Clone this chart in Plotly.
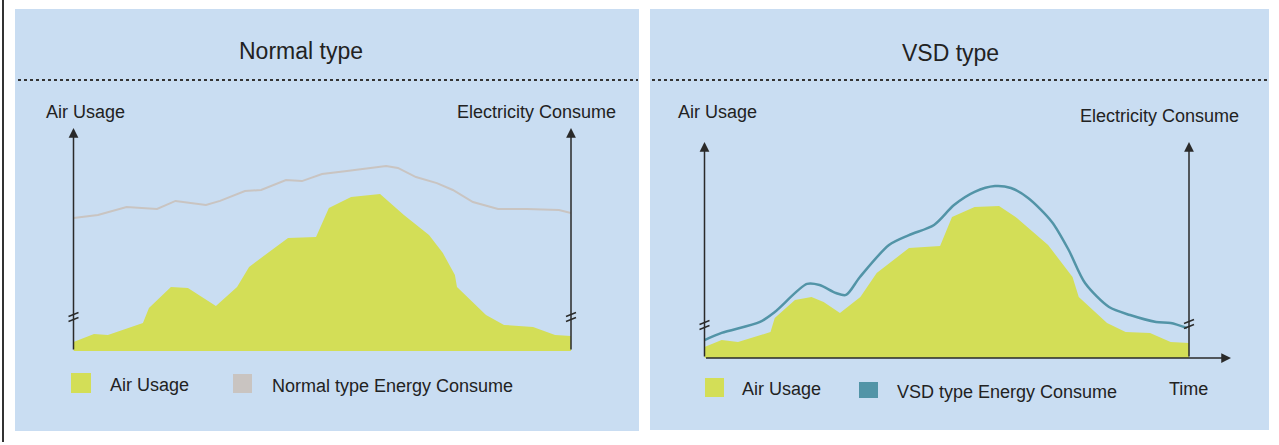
import plotly.graph_objects as go

# ---------------- data (time in hours, value in % of axis height) ----------------
normal_air_t = [0, 0.99, 1.66, 2.34, 3.35, 3.64, 4.70, 5.52, 6.87, 7.89, 8.47, 9.24, 10.35, 11.70,
                12.32, 13.39, 14.79, 15.94, 17.15, 17.82, 18.40, 18.50, 19.90, 20.77, 22.17, 23.23, 24]
normal_air_v = [4.0, 7.6, 7.2, 9.4, 12.6, 19.3, 28.7, 28.3, 20.2, 28.7, 37.7, 43.0, 50.7, 51.1,
                64.1, 69.1, 70.4, 61.0, 52.0, 43.9, 34.1, 28.7, 16.1, 11.7, 10.8, 7.2, 6.7]

normal_energy_t = [0, 1.18, 2.56, 4.03, 4.92, 6.39, 7.07, 8.27, 9.05, 10.25, 11.02, 11.99, 13.19,
                   14.35, 15.08, 15.65, 16.52, 17.53, 18.30, 19.27, 20.48, 21.87, 23.42, 24]
normal_energy_v = [59.6, 61.0, 64.6, 63.7, 67.3, 65.5, 67.3, 71.7, 72.2, 76.7, 76.2, 79.4, 80.7,
                   82.1, 83.0, 82.1, 78.0, 75.3, 72.2, 66.8, 63.7, 63.7, 63.2, 61.9]

vsd_air_t = [0, 0.85, 1.66, 3.27, 3.48, 4.48, 5.30, 5.90, 6.71, 7.72, 8.53, 10.13, 11.67, 12.26,
             13.38, 14.59, 15.41, 17.02, 18.23, 18.54, 19.94, 20.86, 22.07, 23.09, 24]
vsd_air_v = [5.1, 8.3, 7.4, 12.0, 18.5, 26.9, 28.2, 25.9, 20.8, 28.2, 39.4, 50.9, 51.9, 65.3,
             69.9, 70.4, 65.3, 52.3, 37.5, 28.2, 16.2, 12.0, 11.6, 7.4, 6.9]

vsd_energy_t = [0, 0.85, 2.75, 3.48, 5.08, 5.70, 6.51, 7.01, 7.70, 9.14, 10.13, 11.37, 12.36, 13.38,
                14.39, 15.18, 16.03, 17.21, 18.04, 18.85, 20.04, 21.08, 22.37, 23.09, 23.90]
vsd_energy_v = [8.3, 11.6, 16.7, 21.3, 34.3, 33.8, 30.1, 29.2, 37.5, 52.3, 56.9, 61.6, 70.8, 76.9,
                79.6, 78.7, 74.1, 63.0, 50.0, 34.7, 23.6, 19.9, 16.7, 16.2, 13.9]

panel_titles = ["Normal type", "VSD type"]
axis_left_label = "Air Usage"
axis_right_label = "Electricity Consume"
legend_labels = ["Air Usage", "Normal type Energy Consume", "VSD type Energy Consume"]
time_label = "Time"

# ---------------- styling ----------------
W, H = 1279, 445
BG = "#c9ddf2"
YELLOW = "#d3de57"
GRAY = "#c9c4c1"
TEAL = "#5294a7"
DARK = "#2a2a2a"
FONT = "Liberation Sans, Arial, sans-serif"


def px(x):
    return x / W


def py(y):
    return 1 - y / H


fig = go.Figure()

# left panel traces
fig.add_trace(go.Scatter(x=normal_air_t, y=normal_air_v, mode="lines", fill="tozeroy",
                         fillcolor=YELLOW, line=dict(width=0, color=YELLOW),
                         xaxis="x", yaxis="y", showlegend=False, hoverinfo="skip"))
fig.add_trace(go.Scatter(x=normal_energy_t, y=normal_energy_v, mode="lines",
                         line=dict(width=2, color=GRAY),
                         xaxis="x", yaxis="y", showlegend=False, hoverinfo="skip"))
# right panel traces
fig.add_trace(go.Scatter(x=vsd_air_t, y=vsd_air_v, mode="lines", fill="tozeroy",
                         fillcolor=YELLOW, line=dict(width=0, color=YELLOW),
                         xaxis="x2", yaxis="y2", showlegend=False, hoverinfo="skip"))
fig.add_trace(go.Scatter(x=vsd_energy_t, y=vsd_energy_v, mode="lines",
                         line=dict(width=2.5, color=TEAL, shape="spline", smoothing=0.8),
                         xaxis="x2", yaxis="y2", showlegend=False, hoverinfo="skip"))

# panel geometry (pixels)
L = dict(x0=73.5, x1=571, ybot=351, ytop=128)
R = dict(x0=704.5, x1=1189, ybot=358, ytop=142)

axis_common = dict(visible=False, fixedrange=True)
fig.update_layout(
    xaxis=dict(domain=[px(L["x0"]), px(L["x1"])], range=[0, 24], anchor="y", **axis_common),
    yaxis=dict(domain=[py(L["ybot"]), py(L["ytop"])], range=[0, 100], anchor="x", **axis_common),
    xaxis2=dict(domain=[px(R["x0"]), px(R["x1"])], range=[0, 24], anchor="y2", **axis_common),
    yaxis2=dict(domain=[py(R["ybot"]), py(R["ytop"])], range=[0, 100], anchor="x2", **axis_common),
)

shapes = []
# outer left border line
shapes.append(dict(type="line", xref="paper", yref="paper", x0=px(3), x1=px(3), y0=py(0), y1=py(442),
                   line=dict(color="#333333", width=2)))
# panel backgrounds
for (a, b, c, d) in [(15, 639, 9, 431), (650, 1269, 9, 430)]:
    shapes.append(dict(type="rect", xref="paper", yref="paper", x0=px(a), x1=px(b), y0=py(c), y1=py(d),
                       fillcolor=BG, line=dict(width=0), layer="below"))
# dotted separators
for (a, b) in [(18, 638), (652, 1268)]:
    shapes.append(dict(type="line", xref="paper", yref="paper", x0=px(a), x1=px(b), y0=py(80), y1=py(80),
                       line=dict(color="#333333", width=2, dash="dot")))
# axis break marks
for (bx, by) in [(L["x0"], 317), (L["x1"], 317), (R["x0"], 325), (R["x1"], 324)]:
    for off in (-2.5, 2.5):
        shapes.append(dict(type="line", xref="paper", yref="paper",
                           x0=px(bx - 5), x1=px(bx + 5), y0=py(by + off + 2), y1=py(by + off - 2),
                           line=dict(color=DARK, width=1.5)))

# legend squares
for (a, b, c, d, col) in [(71, 91, 373, 393, YELLOW), (233, 252, 374, 393, GRAY),
                          (705, 724, 378, 397, YELLOW), (859, 878, 382, 398, TEAL)]:
    shapes.append(dict(type="rect", xref="paper", yref="paper", x0=px(a), x1=px(b), y0=py(c), y1=py(d),
                       fillcolor=col, line=dict(width=0)))
fig.update_layout(shapes=shapes)

ann = []
# axis arrows (vertical)
for (ax_x, ybot, ytop) in [(L["x0"], L["ybot"], L["ytop"]), (L["x1"], L["ybot"], L["ytop"]),
                           (R["x0"], R["ybot"], R["ytop"]), (R["x1"], R["ybot"], R["ytop"])]:
    ann.append(dict(xref="paper", yref="paper", x=px(ax_x), y=py(ytop), ax=0, ay=ybot - ytop,
                    text="", showarrow=True, arrowhead=2, arrowsize=1.3, arrowwidth=1.5,
                    arrowcolor=DARK))
# horizontal time axis (right panel)
ann.append(dict(xref="paper", yref="paper", x=px(1231), y=py(R["ybot"]), ax=-(1231 - R["x0"]), ay=0,
                text="", showarrow=True, arrowhead=2, arrowsize=1.3, arrowwidth=1.5, arrowcolor=DARK))

def txt(x, y, s, size, xanchor="left"):
    ann.append(dict(xref="paper", yref="paper", x=px(x), y=py(y), text=s, showarrow=False,
                    xanchor=xanchor, yanchor="middle",
                    font=dict(family=FONT, size=size, color="#222222")))

txt(301, 51, panel_titles[0], 23, "center")
txt(950, 53, panel_titles[1], 23, "center")
txt(44, 112, axis_left_label, 18)
txt(618, 112, axis_right_label, 18, "right")
txt(676, 112, axis_left_label, 18)
txt(1241, 116, axis_right_label, 18, "right")
txt(108, 385, legend_labels[0], 18)
txt(270, 386, legend_labels[1], 18)
txt(740, 389, legend_labels[0], 18)
txt(895, 392, legend_labels[2], 18)
txt(1167, 389, time_label, 18)

fig.update_layout(annotations=ann, width=W, height=H, margin=dict(l=0, r=0, t=0, b=0),
                  paper_bgcolor="white", plot_bgcolor="rgba(0,0,0,0)")

fig.write_html("out.html", config={"displayModeBar": False},
               post_script="document.body.style.margin='0px';document.body.style.overflow='hidden';")
